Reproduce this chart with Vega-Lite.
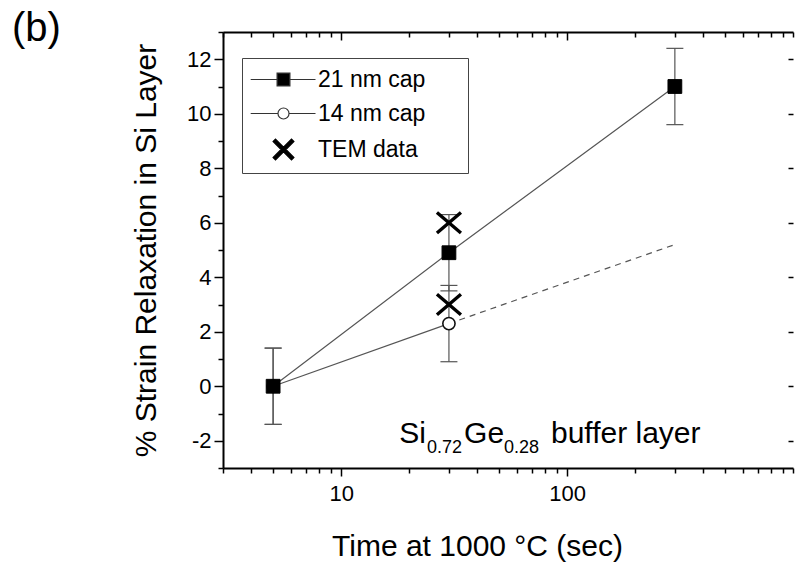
{
  "$schema": "https://vega.github.io/schema/vega-lite/v6.json",
  "width": 570,
  "height": 436,
  "autosize": {"type": "none"},
  "padding": {"left": 223, "top": 32, "right": 2, "bottom": 98},
  "background": "white",
  "title": {"text": "(b)", "anchor": "start", "frame": "group", "dx": -211, "dy": 60, "offset": 0, "baseline": "alphabetic", "fontSize": 40, "fontWeight": "normal", "font": "Liberation Sans", "color": "#000"},
  "datasets": {
    "pts": [
      {"series": "21 nm cap", "t": 5, "v": 0, "lo": -1.4, "hi": 1.4},
      {"series": "21 nm cap", "t": 30, "v": 4.9, "lo": 3.5, "hi": 6.3},
      {"series": "21 nm cap", "t": 300, "v": 11.0, "lo": 9.6, "hi": 12.4},
      {"series": "14 nm cap", "t": 5, "v": 0, "lo": -1.4, "hi": 1.4},
      {"series": "14 nm cap", "t": 30, "v": 2.3, "lo": 0.9, "hi": 3.7}
    ],
    "ext": [
      {"series": "14 nm cap (extrapolated)", "t": 30, "v": 2.3},
      {"series": "14 nm cap (extrapolated)", "t": 300, "v": 5.2}
    ],
    "tem": [
      {"series": "TEM data", "t": 30, "v": 6.0},
      {"series": "TEM data", "t": 30, "v": 3.0}
    ],
    "ann": [
      {"part": "main", "t": 18.06, "v": -2.08, "txt": "Si"},
      {"part": "sub", "t": 24.0, "v": -2.45, "txt": "0.72"},
      {"part": "main", "t": 35.0, "v": -2.08, "txt": "Ge"},
      {"part": "sub", "t": 52.6, "v": -2.45, "txt": "0.28"},
      {"part": "main", "t": 84.9, "v": -2.08, "txt": "buffer layer"}
    ]
  },
  "layer": [
    {
      "data": {"name": "pts"},
      "mark": {"type": "line", "color": "#555", "strokeWidth": 1.2},
      "encoding": {
        "x": {
          "field": "t", "type": "quantitative",
          "scale": {"type": "log", "domain": [3, 1000], "nice": false},
          "axis": {
            "orient": "bottom",
            "values": [3,4,5,6,7,8,9,10,20,30,40,50,60,70,80,90,100,200,300,400,500,600,700,800,900,1000],
            "labelExpr": "datum.value == 10 || datum.value == 100 ? '' + datum.value : ''",
            "tickSize": {"condition": {"test": "datum.value == 10 || datum.value == 100", "value": 8}, "value": 5},
            "tickColor": "#000", "tickWidth": 1.5, "domain": true, "domainColor": "#000", "domainWidth": 2, "grid": false,
            "labelFontSize": 22, "labelPadding": 7, "labelOverlap": false, "labelFlush": false, "labelColor": "#000",
            "title": "Time at 1000 °C (sec)", "titleFontSize": 30, "titleFontWeight": "normal", "titleColor": "#000",
            "titleX": 254, "titleY": 87, "titleBaseline": "alphabetic", "titleAlign": "center"
          }
        },
        "y": {
          "field": "v", "type": "quantitative",
          "scale": {"domain": [-3, 13], "nice": false, "zero": false},
          "axis": {
            "orient": "left",
            "values": [-3,-2,-1,0,1,2,3,4,5,6,7,8,9,10,11,12,13],
            "labelExpr": "datum.value % 2 == 0 ? '' + datum.value : ''",
            "tickSize": {"condition": {"test": "datum.value % 2 == 0", "value": 9}, "value": 5},
            "tickColor": "#000", "tickWidth": 1.5, "domain": true, "domainColor": "#000", "domainWidth": 2, "grid": false,
            "labelFontSize": 22, "labelPadding": 3, "labelOverlap": false, "labelFlush": false, "labelColor": "#000",
            "title": "% Strain Relaxation in Si Layer", "titleFontSize": 30, "titleFontWeight": "normal", "titleColor": "#000",
            "titleX": -68, "titleY": 218, "titleAngle": 270, "titleBaseline": "alphabetic", "titleAlign": "center"
          }
        },
        "detail": {"field": "series"}
      }
    },
    {
      "data": {"name": "ext"},
      "mark": {"type": "line", "color": "#555", "strokeWidth": 1.2, "strokeDash": [6, 5]},
      "encoding": {
        "x": {
          "field": "t", "type": "quantitative",
          "scale": {"type": "log", "domain": [3, 1000], "nice": false},
          "axis": {
            "orient": "top",
            "values": [3,4,5,6,7,8,9,10,20,30,40,50,60,70,80,90,100,200,300,400,500,600,700,800,900,1000],
            "labels": false,
            "tickSize": {"condition": {"test": "datum.value == 10 || datum.value == 100", "value": -8}, "value": -5},
            "tickColor": "#000", "tickWidth": 1.5, "domain": true, "domainColor": "#000", "domainWidth": 2, "grid": false, "title": null
          }
        },
        "y": {
          "field": "v", "type": "quantitative",
          "scale": {"domain": [-3, 13], "nice": false, "zero": false},
          "axis": {
            "orient": "right",
            "values": [-2,0,2,4,6,8,10,12],
            "labels": false,
            "tickSize": -5,
            "tickColor": "#000", "tickWidth": 1.5, "domain": false, "grid": false, "title": null
          }
        }
      }
    },
    {
      "data": {"name": "pts"},
      "mark": {"type": "rule", "color": "#555", "strokeWidth": 1.2},
      "encoding": {
        "x": {"field": "t", "type": "quantitative", "axis": null},
        "y": {"field": "lo", "type": "quantitative", "axis": null},
        "y2": {"field": "hi"}
      }
    },
    {
      "data": {"name": "pts"},
      "mark": {"type": "tick", "orient": "horizontal", "color": "#555", "size": 17, "thickness": 1.2, "opacity": 1},
      "encoding": {
        "x": {"field": "t", "type": "quantitative", "axis": null},
        "y": {"field": "lo", "type": "quantitative", "axis": null}
      }
    },
    {
      "data": {"name": "pts"},
      "mark": {"type": "tick", "orient": "horizontal", "color": "#555", "size": 17, "thickness": 1.2, "opacity": 1},
      "encoding": {
        "x": {"field": "t", "type": "quantitative", "axis": null},
        "y": {"field": "hi", "type": "quantitative", "axis": null}
      }
    },
    {
      "data": {"name": "pts"},
      "transform": [{"filter": "datum.series == '14 nm cap'"}],
      "mark": {"type": "point", "shape": "circle", "size": 150, "filled": true, "fill": "#fff", "stroke": "#111", "strokeWidth": 1.6, "opacity": 1},
      "encoding": {
        "x": {"field": "t", "type": "quantitative", "axis": null},
        "y": {"field": "v", "type": "quantitative", "axis": null}
      }
    },
    {
      "data": {"name": "pts"},
      "transform": [{"filter": "datum.series == '21 nm cap'"}],
      "mark": {"type": "point", "shape": "square", "size": 190, "filled": true, "fill": "#000", "stroke": "#000", "strokeWidth": 1, "opacity": 1},
      "encoding": {
        "x": {"field": "t", "type": "quantitative", "axis": null},
        "y": {"field": "v", "type": "quantitative", "axis": null}
      }
    },
    {
      "data": {"name": "tem"},
      "mark": {"type": "point", "shape": "M-1,-0.85L1,0.85M-1,0.85L1,-0.85", "size": 576, "filled": false, "stroke": "#000", "strokeWidth": 3.4, "opacity": 1},
      "encoding": {
        "x": {"field": "t", "type": "quantitative", "axis": null},
        "y": {"field": "v", "type": "quantitative", "axis": null}
      }
    },
    {
      "data": {"name": "ann"},
      "transform": [{"filter": "datum.part == 'main'"}],
      "mark": {"type": "text", "align": "left", "baseline": "alphabetic", "fontSize": 30, "font": "Liberation Sans", "color": "#000"},
      "encoding": {
        "x": {"field": "t", "type": "quantitative", "axis": null},
        "y": {"field": "v", "type": "quantitative", "axis": null},
        "text": {"field": "txt"}
      }
    },
    {
      "data": {"name": "ann"},
      "transform": [{"filter": "datum.part == 'sub'"}],
      "mark": {"type": "text", "align": "left", "baseline": "alphabetic", "fontSize": 18, "font": "Liberation Sans", "color": "#000"},
      "encoding": {
        "x": {"field": "t", "type": "quantitative", "axis": null},
        "y": {"field": "v", "type": "quantitative", "axis": null},
        "text": {"field": "txt"}
      }
    },
    {
      "data": {"name": "pts"},
      "transform": [{"filter": "false"}],
      "mark": {"type": "point", "filled": true, "opacity": 1},
      "encoding": {
        "shape": {
          "field": "series", "type": "nominal",
          "scale": {
            "domain": ["21 nm cap", "14 nm cap", "TEM data"],
            "range": [
              "M-1.6,0H1.7M3.3,0H6.5M1.7,-0.8H3.3V0.8H1.7Z",
              "M-1.6,0H1.81M3.19,0H6.5M1.81,0A0.69,0.69,0,1,0,3.19,0A0.69,0.69,0,1,0,1.81,0Z",
              "M1.5,-1.3L2.5,-0.3L3.5,-1.3L3.8,-1L2.8,0L3.8,1L3.5,1.3L2.5,0.3L1.5,1.3L1.2,1L2.2,0L1.2,-1Z"
            ]
          },
          "legend": {
            "orient": "none", "legendX": 19, "legendY": 26, "title": null,
            "symbolSize": 256, "symbolStrokeWidth": 1.2, "symbolOpacity": 1,
            "labelFontSize": 23, "labelFont": "Liberation Sans", "labelColor": "#000", "labelOffset": 43, "labelLimit": 400,
            "labelExpr": "datum.label + '\u00a0\u00a0\u00a0\u00a0\u00a0\u200b'",
            "rowPadding": 10, "padding": 10, "strokeColor": "#444", "fillColor": "#fff"
          }
        },
        "fill": {
          "field": "series", "type": "nominal",
          "scale": {"domain": ["21 nm cap", "14 nm cap", "TEM data"], "range": ["#000", "#fff", "#000"]},
          "legend": {
            "orient": "none", "legendX": 19, "legendY": 26, "title": null,
            "symbolSize": 256, "symbolStrokeWidth": 1.2, "symbolOpacity": 1,
            "labelFontSize": 23, "labelFont": "Liberation Sans", "labelColor": "#000", "labelOffset": 43, "labelLimit": 400,
            "labelExpr": "datum.label + '\u00a0\u00a0\u00a0\u00a0\u00a0\u200b'",
            "rowPadding": 10, "padding": 10, "strokeColor": "#444", "fillColor": "#fff"
          }
        },
        "stroke": {
          "field": "series", "type": "nominal",
          "scale": {"domain": ["21 nm cap", "14 nm cap", "TEM data"], "range": ["#333", "#333", "#000"]},
          "legend": {
            "orient": "none", "legendX": 19, "legendY": 26, "title": null,
            "symbolSize": 256, "symbolStrokeWidth": 1.2, "symbolOpacity": 1,
            "labelFontSize": 23, "labelFont": "Liberation Sans", "labelColor": "#000", "labelOffset": 43, "labelLimit": 400,
            "labelExpr": "datum.label + '\u00a0\u00a0\u00a0\u00a0\u00a0\u200b'",
            "rowPadding": 10, "padding": 10, "strokeColor": "#444", "fillColor": "#fff"
          }
        }
      }
    }
  ],
  "resolve": {"axis": {"x": "independent", "y": "independent"}},
  "config": {
    "font": "Liberation Sans",
    "view": {"stroke": null},
    "axis": {"labelFont": "Liberation Sans", "titleFont": "Liberation Sans"}
  }
}
